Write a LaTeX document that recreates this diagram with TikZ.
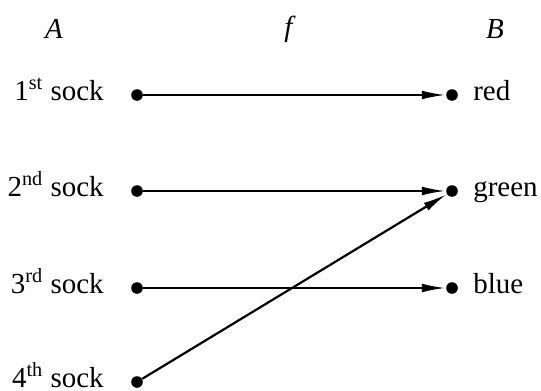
\documentclass[tikz,border=0pt]{standalone}
\usepackage{fontspec}
\setmainfont{Liberation Serif}
\usetikzlibrary{arrows.meta}
\usetikzlibrary{positioning}
\tikzset{
  pt/.style={circle,fill,inner sep=0pt,minimum size=5.8pt},
  lbl/.style={text height=0.5em,text depth=0pt},
  map/.style={-{Latex[length=12pt,width=4.4pt]},line width=1.1pt},
}
\begin{document}
\begin{tikzpicture}[x=0.5pt,y=-0.5pt,font=\fontsize{14.5}{17}\selectfont]
\useasboundingbox (0,0) rectangle (541,391);
\node (A) at (54,29) {\textit{A}};
\node (f) at (290,29) {\textit{f}};
\node (B) at (495,29) {\textit{B}};
% domain and codomain points
\node[pt] (a1) at (137,95) {};
\node[pt] (a2) at (137,191) {};
\node[pt] (a3) at (137,288) {};
\node[pt] (a4) at (137,382) {};
\node[pt] (b1) at (452,95) {};
\node[pt] (b2) at (452,191) {};
\node[pt] (b3) at (452,288) {};
\node[lbl,left=10pt of a1] (s1) {1\textsuperscript{st} sock};
\node[lbl,left=10pt of a2] (s2) {2\textsuperscript{nd} sock};
\node[lbl,left=10pt of a3] (s3) {3\textsuperscript{rd} sock};
\node[lbl,left=10pt of a4] (s4) {4\textsuperscript{th} sock};
\node[lbl,right=4pt of b1] (c1) {red};
\node[lbl,right=4pt of b2] (c2) {green};
\node[lbl,right=4pt of b3] (c3) {blue};
\draw[map] (a1) -- (b1);
\draw[map] (a2) -- (b2);
\draw[map] (a3) -- (b3);
\draw[map] (a4) -- (b2);
\end{tikzpicture}
\end{document}
